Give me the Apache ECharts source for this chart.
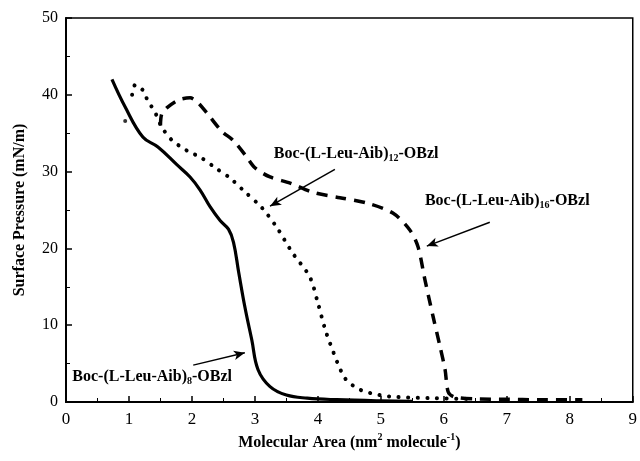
<!DOCTYPE html>
<html>
<head>
<meta charset="utf-8">
<script src="https://cdn.jsdelivr.net/npm/echarts@6.0.0/dist/echarts.min.js"></script>
<style>
  html, body { margin: 0; padding: 0; background: #fff; }
  #chart { width: 640px; height: 461px; }
</style>
</head>
<body>
<div id="chart"></div>
<script>
// Boc-(L-Leu-Aib)8-OBzl, solid line
const area8 = [0.73, 0.94, 1.22, 1.46, 1.76, 1.97, 2.13, 2.29, 2.45, 2.58, 2.66, 2.74, 2.84, 2.95, 3.05, 3.24, 3.5, 3.83, 4.3, 5.0, 5.5]
const pres8 = [42.0, 38.4, 34.5, 33.2, 30.9, 29.3, 27.6, 25.4, 23.6, 22.5, 20.8, 17.0, 12.4, 8.1, 4.2, 2.0, 0.9, 0.5, 0.3, 0.15, 0.1]

// Boc-(L-Leu-Aib)12-OBzl, dotted line
const area12 = [1.05, 1.1, 1.22, 1.3, 1.41, 1.52, 1.68, 1.81, 1.97, 2.13, 2.37, 2.6, 2.81, 3.11, 3.35, 3.59, 3.87, 4.0, 4.11, 4.19, 4.43, 4.67, 4.98, 5.25, 5.78, 6.4]
const pres12 = [40.0, 41.3, 40.6, 39.2, 37.8, 35.8, 34.1, 33.3, 32.5, 31.9, 30.5, 29.2, 27.6, 25.3, 22.7, 19.5, 16.3, 12.9, 9.6, 7.7, 3.1, 1.6, 0.9, 0.65, 0.5, 0.4]
const stray12 = [[0.94, 36.6]]

// Boc-(L-Leu-Aib)16-OBzl, dashed line
const area16 = [1.5, 1.52, 1.6, 1.78, 1.97, 2.08, 2.24, 2.48, 2.65, 2.87, 3.0, 3.24, 3.56, 3.92, 4.35, 4.78, 5.19, 5.46, 5.59, 5.7, 5.83, 5.94, 6.02, 6.07, 6.17, 6.5, 7.0, 7.5, 8.2]
const pres16 = [36.0, 37.5, 38.3, 39.3, 39.6, 39.1, 37.6, 35.2, 34.1, 31.9, 30.5, 29.3, 28.5, 27.3, 26.6, 25.9, 24.6, 22.4, 20.2, 15.9, 11.1, 7.2, 4.2, 1.3, 0.65, 0.4, 0.35, 0.3, 0.3]

const xTicks = [0, 1, 2, 3, 4, 5, 6, 7, 8, 9]
const yTicks = [0, 10, 20, 30, 40, 50]

const FONT = "'Liberation Serif', 'DejaVu Serif', serif"

function pairs(xs, ys) {
  return xs.map((x, i) => [x, ys[i]])
}

function arrow(from, to) {
  return {
    silent: true,
    symbol: ['none', 'arrow'],
    symbolSize: [7, 11],
    label: { show: false },
    lineStyle: { type: 'solid', color: '#000', width: 1.5 },
    data: [[{ coord: from }, { coord: to }]]
  }
}

const chart = echarts.init(document.getElementById('chart'))
chart.setOption({
  animation: false,
  backgroundColor: '#fff',
  grid: {
    left: 66, right: 6, top: 18, bottom: 59,
    show: true, borderColor: '#000', borderWidth: 1.5
  },
  xAxis: {
    type: 'value',
    min: xTicks[0], max: xTicks[xTicks.length - 1], interval: 1,
    name: '{t|Molecular Area (nm}{p|2}{t| molecule}{p|-1}{t|)}',
    nameLocation: 'middle',
    nameGap: 30,
    nameTextStyle: {
      rich: {
        t: { fontFamily: FONT, fontWeight: 'bold', fontSize: 16, color: '#000' },
        p: { fontFamily: FONT, fontWeight: 'bold', fontSize: 10, color: '#000', padding: [0, 0, 10, 0] }
      }
    },
    axisLine: { lineStyle: { color: '#000', width: 2 } },
    axisTick: { inside: true, length: 6, lineStyle: { color: '#000', width: 1.5 } },
    minorTick: { show: true, splitNumber: 2, length: 4, lineStyle: { color: '#000', width: 1 } },
    axisLabel: { color: '#000', fontFamily: FONT, fontSize: 17, margin: 9 },
    splitLine: { show: false }
  },
  yAxis: {
    type: 'value',
    min: yTicks[0], max: yTicks[yTicks.length - 1], interval: 10,
    name: 'Surface Pressure (mN/m)',
    nameLocation: 'middle',
    nameGap: 38,
    nameTextStyle: { fontFamily: FONT, fontWeight: 'bold', fontSize: 16, color: '#000' },
    axisLine: { lineStyle: { color: '#000', width: 2 } },
    axisTick: { inside: true, length: 6, lineStyle: { color: '#000', width: 1.5 } },
    minorTick: { show: true, splitNumber: 2, length: 4, lineStyle: { color: '#000', width: 1 } },
    axisLabel: { color: '#000', fontFamily: FONT, fontSize: 16, margin: 8 },
    splitLine: { show: false }
  },
  series: [
    {
      name: 'Boc-(L-Leu-Aib)8-OBzl',
      type: 'line',
      data: pairs(area8, pres8),
      smooth: 0.4,
      showSymbol: false,
      lineStyle: { color: '#000', width: 3.2 },
      markLine: arrow([2.02, 4.8], [2.84, 6.4])
    },
    {
      name: 'Boc-(L-Leu-Aib)12-OBzl',
      type: 'line',
      data: pairs(area12, pres12),
      smooth: 0.3,
      showSymbol: false,
      lineStyle: { color: '#000', width: 4, type: [0.1, 9.5], cap: 'round' },
      markLine: arrow([4.27, 30.3], [3.24, 25.5])
    },
    {
      name: 'stray',
      type: 'scatter',
      data: stray12,
      symbol: 'circle',
      symbolSize: 4,
      itemStyle: { color: '#000' }
    },
    {
      name: 'Boc-(L-Leu-Aib)16-OBzl',
      type: 'line',
      data: pairs(area16, pres16),
      smooth: 0.3,
      showSymbol: false,
      lineStyle: { color: '#000', width: 3.5, type: [11, 8] },
      markLine: arrow([6.73, 23.4], [5.73, 20.3])
    }
  ]
})

// curve labels placed in data coordinates
const labelRich = {
  b: { fontFamily: FONT, fontWeight: 'bold', fontSize: 16, fill: '#000' },
  s: { fontFamily: FONT, fontWeight: 'bold', fontSize: 10, fill: '#000', padding: [9, 0, 0, 0] }
}
const labels = [
  { n: '8', at: [0.1, 3.3] },
  { n: '12', at: [3.3, 32.3] },
  { n: '16', at: [5.7, 26.2] }
]
chart.setOption({
  graphic: labels.map(l => {
    const p = chart.convertToPixel({ gridIndex: 0 }, l.at)
    return {
      type: 'text',
      x: p[0], y: p[1],
      style: {
        text: '{b|Boc-(L-Leu-Aib)}{s|' + l.n + '}{b|-OBzl}',
        rich: labelRich,
        verticalAlign: 'middle'
      }
    }
  })
})
</script>
</body>
</html>
